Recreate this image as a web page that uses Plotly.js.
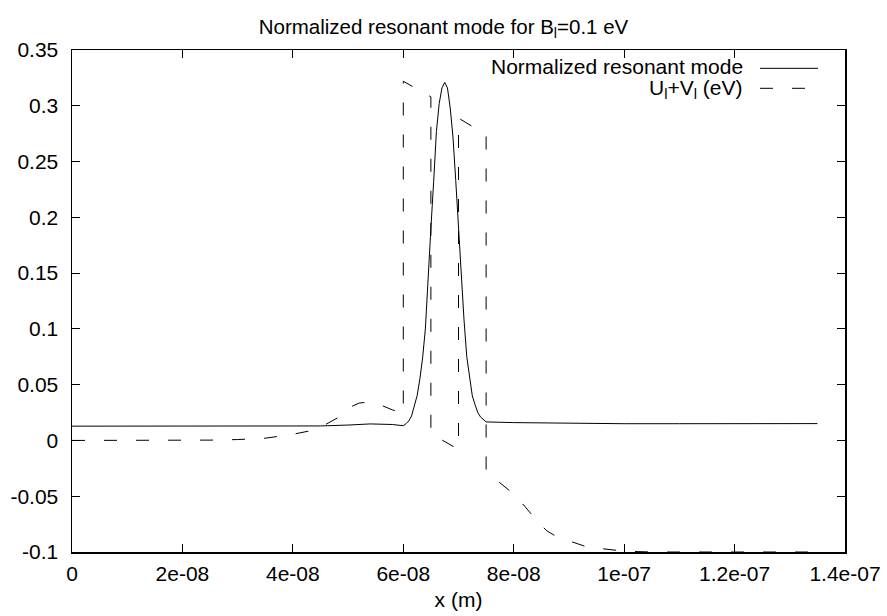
<!DOCTYPE html>
<html>
<head>
<meta charset="utf-8">
<script src="https://cdn.plot.ly/plotly-3.0.1.min.js"></script>
<style>html,body{margin:0;padding:0;background:#fff;}#chart{width:887px;height:616px;}</style>
</head>
<body>
<div id="chart"></div>
<script>
// Normalized resonant mode (solid)
var modeX = [0, 1e-8, 2e-8, 3e-8, 4e-8, 4.5e-8, 5e-8, 5.4e-8, 5.8e-8, 6.0e-8, 6.05e-8, 6.1e-8, 6.15e-8, 6.2e-8, 6.25e-8, 6.3e-8, 6.35e-8, 6.4e-8, 6.45e-8, 6.5e-8, 6.55e-8, 6.6e-8, 6.65e-8, 6.7e-8, 6.75e-8, 6.8e-8, 6.85e-8, 6.9e-8, 6.95e-8, 7.0e-8, 7.05e-8, 7.1e-8, 7.15e-8, 7.2e-8, 7.25e-8, 7.3e-8, 7.35e-8, 7.4e-8, 7.5e-8, 8e-8, 9e-8, 1e-7, 1.1e-7, 1.2e-7, 1.3e-7, 1.35e-7];
var modeY = [0.0128, 0.0128, 0.0127, 0.0127, 0.0128, 0.0130, 0.0138, 0.0148, 0.0143, 0.0132, 0.015, 0.0175, 0.022, 0.030, 0.040, 0.055, 0.074, 0.100, 0.140, 0.190, 0.232, 0.277, 0.302, 0.316, 0.321, 0.316, 0.298, 0.272, 0.233, 0.190, 0.146, 0.108, 0.075, 0.055, 0.040, 0.032, 0.025, 0.021, 0.0166, 0.0160, 0.0153, 0.0150, 0.0150, 0.0151, 0.0151, 0.0151];

// U_l + V_l (eV) (dashed)
var potX = [0, 1e-8, 2e-8, 2.5e-8, 3e-8, 3.5e-8, 4e-8, 4.3e-8, 4.6e-8, 4.8e-8, 5.0e-8, 5.2e-8, 5.4e-8, 5.6e-8, 5.8e-8, 6.0e-8, 6.0e-8, 6.5e-8, 6.5e-8, 7.0e-8, 7.0e-8, 7.5e-8, 7.5e-8, 7.6e-8, 7.8e-8, 8.0e-8, 8.2e-8, 8.4e-8, 8.6e-8, 8.8e-8, 9.0e-8, 9.3e-8, 9.6e-8, 1e-7, 1.05e-7, 1.1e-7, 1.2e-7, 1.3e-7, 1.35e-7];
var potY = [0, 0, 0, 0.0003, 0.0008, 0.002, 0.0055, 0.0085, 0.0145, 0.020, 0.029, 0.0335, 0.0345, 0.0315, 0.0275, 0.024, 0.322, 0.308, 0.006, -0.008, 0.289, 0.274, -0.028, -0.032, -0.040, -0.048, -0.059, -0.071, -0.081, -0.087, -0.090, -0.095, -0.097, -0.0993, -0.1, -0.1, -0.1, -0.1, -0.1];

var xTickVals = [0, 2e-8, 4e-8, 6e-8, 8e-8, 1e-7, 1.2e-7, 1.4e-7];
var xTickText = ["0", "2e-08", "4e-08", "6e-08", "8e-08", "1e-07", "1.2e-07", "1.4e-07"];
var yTickVals = [-0.1, -0.05, 0, 0.05, 0.1, 0.15, 0.2, 0.25, 0.3, 0.35];
var yTickText = ["-0.1", "-0.05", "0", "0.05", "0.1", "0.15", "0.2", "0.25", "0.3", "0.35"];

var seriesNames = ["Normalized resonant mode", "U<sub>l</sub>+V<sub>l</sub> (eV)"];

var FONT = "Liberation Sans, Arial, Helvetica, sans-serif";
var FS = 21;

var traces = [
  {x: modeX, y: modeY, mode: "lines", name: seriesNames[0], line: {color: "#000", width: 1}, hoverinfo: "x+y"},
  {x: potX, y: potY, mode: "lines", name: seriesNames[1], line: {color: "#000", width: 1, dash: "13px,19px"}, hoverinfo: "x+y"}
];

var layout = {
  width: 887, height: 616,
  margin: {l: 72, r: 42, t: 50, b: 64},
  paper_bgcolor: "#fff", plot_bgcolor: "#fff",
  font: {family: FONT, size: FS, color: "#000"},
  showlegend: false,
  title: {text: "Normalized resonant mode for B<sub>l</sub>=0.1 eV", x: 0.5, xanchor: "center", y: 0.957, yanchor: "middle", yref: "container", font: {family: FONT, size: FS - 0.5, color: "#000"}},
  xaxis: {
    range: [0, 1.4e-7], tickvals: xTickVals, ticktext: xTickText,
    showgrid: false, zeroline: false, showline: true, linecolor: "#000", linewidth: 1.5,
    mirror: "ticks", ticks: "inside", ticklen: 8, tickcolor: "#000", tickwidth: 1,
    ticklabelstandoff: 2,
    title: {text: "x (m)", standoff: 8, font: {family: FONT, size: FS, color: "#000"}}
  },
  yaxis: {
    range: [-0.1, 0.35], tickvals: yTickVals, ticktext: yTickText,
    showgrid: false, zeroline: false, showline: true, linecolor: "#000", linewidth: 1.5,
    mirror: "ticks", ticks: "inside", ticklen: 8, tickcolor: "#000", tickwidth: 1,
    ticklabelstandoff: 8
  },
  annotations: [
    {xref: "paper", yref: "paper", x: 0.8706, y: 0.9665, xanchor: "right", yanchor: "middle", text: seriesNames[0], showarrow: false, font: {family: FONT, size: FS, color: "#000"}},
    {xref: "paper", yref: "paper", x: 0.8706, y: 0.9215, xanchor: "right", yanchor: "middle", text: seriesNames[1], showarrow: false, font: {family: FONT, size: FS, color: "#000"}}
  ],
  shapes: [
    {type: "line", xref: "paper", yref: "paper", x0: 0.890, x1: 0.965, y0: 0.9635, y1: 0.9635, line: {color: "#000", width: 1}},
    {type: "line", xref: "paper", yref: "paper", x0: 0.890, x1: 0.965, y0: 0.9237, y1: 0.9237, line: {color: "#000", width: 1, dash: "13px,19px"}}
  ]
};

Plotly.newPlot("chart", traces, layout, {staticPlot: true, displayModeBar: false});
</script>
</body>
</html>
